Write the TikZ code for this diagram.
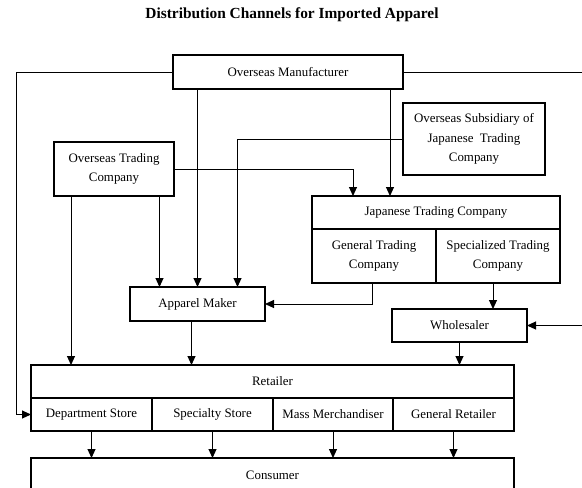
\documentclass[tikz,border=0pt]{standalone}
\usepackage{fontspec}
\setmainfont{Liberation Serif}
\usetikzlibrary{arrows.meta}
\usetikzlibrary{positioning}

\begin{document}
\begin{tikzpicture}[x=1pt, y=-1pt,
  box/.style={draw, line width=1.2pt, inner sep=0pt, outer sep=0pt, align=center,
    font=\fontsize{12.9}{19.5}\selectfont},
  arr/.style={-{Triangle[length=9pt,width=8pt]}, line width=1pt}]
  \useasboundingbox (0,0) rectangle (582,488);
  \clip (0,0) rectangle (582,488);

  % タイトル
  \node[font=\bfseries\fontsize{15.4}{17}\selectfont] (title) at (292,15)
    {Distribution Channels for Imported Apparel};

  % 上の段
  \node[box, minimum width=230pt, minimum height=34pt] (om) at (288,72) {Overseas Manufacturer};
  \node[box, minimum width=142pt, minimum height=72pt] (sub) at (474,139)
    {Overseas Subsidiary of\\Japanese~ Trading\\Company};
  \node[box, minimum width=120pt, minimum height=54pt] (otc) at (114,169)
    {Overseas Trading\\Company};

  % 商社
  \node[box, minimum width=248pt, minimum height=33pt] (jtc) at (436,212.5) {Japanese Trading Company};
  \node[box, minimum width=124pt, minimum height=54pt, below right=0pt of jtc.south west] (gtc)
    {General Trading\\Company};
  \node[box, minimum width=124pt, minimum height=54pt, right=0pt of gtc] (stc)
    {Specialized Trading\\Company};

  % 中間
  \node[box, minimum width=135pt, minimum height=34pt] (am) at (197.5,304) {Apparel Maker};
  \node[box, minimum width=135pt, minimum height=33pt] (whs) at (459.5,325.5) {Wholesaler};

  % 小売
  \node[box, minimum width=483pt, minimum height=33pt] (ret) at (272.5,381.5) {Retailer};
  \node[box, minimum width=121pt, minimum height=33pt, below right=0pt of ret.south west] (dep)
    {Department Store};
  \node[box, minimum width=121pt, minimum height=33pt, right=0pt of dep] (spe) {Specialty Store};
  \node[box, minimum width=120pt, minimum height=33pt, right=0pt of spe] (mas) {Mass Merchandiser};
  \node[box, minimum width=121pt, minimum height=33pt, right=0pt of mas] (gen) {General Retailer};
  \node[box, minimum width=483pt, minimum height=34pt] (con) at (272.5,475) {Consumer};

  % 矢印
  \draw[arr] (om.west) -| ([xshift=-15pt]dep.west) -- (dep.west);
  \draw[arr] (om.east) -| ([xshift=73pt]whs.east) -- (whs.east);
  \draw[arr] (om.south -| am.north) -- (am.north);
  \draw[arr] ([xshift=-46pt]jtc.north |- om.south) -- ([xshift=-46pt]jtc.north);
  \draw[arr] (otc.east) -| ([xshift=-83pt]jtc.north);
  \draw[arr] ([xshift=-38pt]am.north |- otc.south) -- ([xshift=-38pt]am.north);
  \draw[arr] ([xshift=-43pt]otc.south) -- ([xshift=-43pt]otc.south |- ret.north);
  \draw[arr] (sub.west) -| ([xshift=40pt]am.north);
  \draw[arr] ([xshift=-2pt]gtc.south) |- (am.east);
  \draw[arr] ([xshift=-5pt]stc.south) -- ([xshift=-5pt]stc.south |- whs.north);
  \draw[arr] ([xshift=-6pt]am.south) -- ([xshift=-6pt]am.south |- ret.north);
  \draw[arr] (whs.south) -- (whs.south |- ret.north);
  \foreach \c in {dep,spe,mas,gen}
    \draw[arr] (\c.south) -- (\c.south |- con.north);
\end{tikzpicture}
\end{document}
